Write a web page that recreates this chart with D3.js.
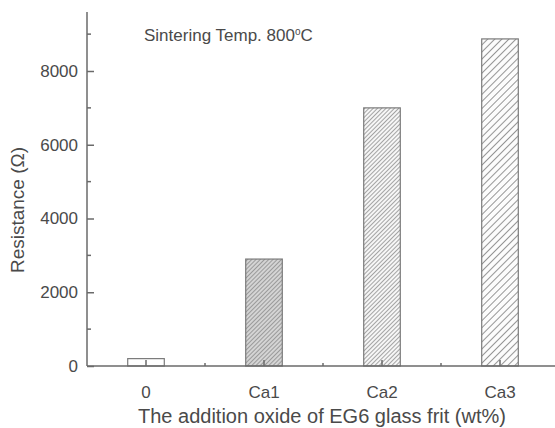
<!DOCTYPE html>
<html>
<head>
<meta charset="utf-8">
<script src="https://cdn.jsdelivr.net/npm/d3@7"></script>
<style>
  body { margin: 0; background: #fff; }
  text { font-family: "Liberation Sans", Arial, sans-serif; fill: #4a4a4a; }
</style>
</head>
<body>
<div id="chart"></div>
<script>
// data
let categories = ["0", "Ca1", "Ca2", "Ca3"]
let resistance = [200, 2900, 7000, 8870]
let yTicks = [0, 2000, 4000, 6000, 8000]
let yMinorTicks = [1000, 3000, 5000, 7000, 9000]
let hatches = ["none", "dense-gray", "dense", "sparse"]

let width = 555, height = 428
let margin = { top: 12, right: -4, bottom: 62, left: 87 }

let svg = d3.select("#chart").append("svg")
  .attr("width", width)
  .attr("height", height)

// hatch patterns
let defs = svg.append("defs")
let makeHatch = (id, step, bg, stroke) => {
  let p = defs.append("pattern")
    .attr("id", id)
    .attr("patternUnits", "userSpaceOnUse")
    .attr("width", step)
    .attr("height", step)
    .attr("patternTransform", "rotate(45)")
  p.append("rect").attr("width", step).attr("height", step).attr("fill", bg)
  p.append("line")
    .attr("x1", step / 2).attr("x2", step / 2)
    .attr("y1", 0).attr("y2", step)
    .attr("stroke", stroke)
    .attr("stroke-width", 1)
}
makeHatch("dense-gray", 3, "#d4d4d4", "#9a9a9a")
makeHatch("dense", 3, "#f6f6f6", "#a4a4a4")
makeHatch("sparse", 5, "#fcfcfc", "#969696")

let x = d3.scaleBand()
  .domain(categories)
  .range([margin.left, width - margin.right])
  .paddingInner(0.69)
  .paddingOuter(0.345)

let y = d3.scaleLinear()
  .domain([0, 9600])
  .range([height - margin.bottom, margin.top])

// bars
svg.selectAll(".bar")
  .data(categories)
  .enter()
  .append("rect")
  .attr("class", "bar")
  .attr("x", d => x(d))
  .attr("width", x.bandwidth())
  .attr("y", (d, i) => y(resistance[i]))
  .attr("height", (d, i) => y(0) - y(resistance[i]))
  .attr("fill", (d, i) => hatches[i] == "none" ? "#fff" : "url(#" + hatches[i] + ")")
  .attr("stroke", "#7a7a7a")
  .attr("stroke-width", 1.2)

// y axis, ticks pointing inwards
let yAxis = d3.axisLeft(y)
  .tickValues(yTicks)
  .tickSize(-7)
  .tickPadding(9)
  .tickFormat(d3.format("d"))

let gY = svg.append("g")
  .attr("transform", "translate(" + margin.left + ",0)")
  .call(yAxis)

gY.select(".domain").attr("d", "M0," + y.range()[1] + "V" + y.range()[0])

gY.selectAll(".tick.minor")
  .data(yMinorTicks)
  .enter()
  .append("line")
  .attr("x1", 0).attr("x2", 4)
  .attr("y1", d => y(d)).attr("y2", d => y(d))

gY.selectAll("path, line")
  .style("stroke", "#6a6a6a")
  .style("stroke-width", 1.5)

gY.selectAll("text")
  .style("font-size", "17px")
  .style("fill", "#4a4a4a")

// x axis
let xAxis = d3.axisBottom(x)
  .tickSize(-6)
  .tickPadding(20)

let gX = svg.append("g")
  .attr("transform", "translate(0," + y(0) + ")")
  .call(xAxis)

gX.select(".domain").attr("d", "M" + margin.left + ",0H" + width)

// minor ticks between categories
gX.selectAll(".minor")
  .data(categories.slice(1))
  .enter()
  .append("line")
  .attr("class", "minor")
  .attr("x1", d => x(d) - x.step() * x.paddingInner() / 2)
  .attr("x2", d => x(d) - x.step() * x.paddingInner() / 2)
  .attr("y1", 0).attr("y2", -3)

gX.selectAll("path, line")
  .style("stroke", "#6a6a6a")
  .style("stroke-width", 1.5)

gX.selectAll("text")
  .style("font-size", "17px")
  .style("fill", "#4a4a4a")

// titles
svg.append("text")
  .attr("x", 322)
  .attr("y", 423)
  .attr("text-anchor", "middle")
  .style("font-size", "20px")
  .text("The addition oxide of EG6 glass frit (wt%)")

svg.append("text")
  .attr("transform", "translate(24,210) rotate(-90)")
  .attr("text-anchor", "middle")
  .style("font-size", "19px")
  .text("Resistance (Ω)")

// annotation
let note = svg.append("text")
  .attr("x", 144)
  .attr("y", 41)
  .style("font-size", "17px")
  .text("Sintering Temp. 800")
note.append("tspan")
  .attr("dy", -6)
  .style("font-size", "10px")
  .text("o")
note.append("tspan")
  .attr("dy", 6)
  .text("C")
</script>
</body>
</html>
